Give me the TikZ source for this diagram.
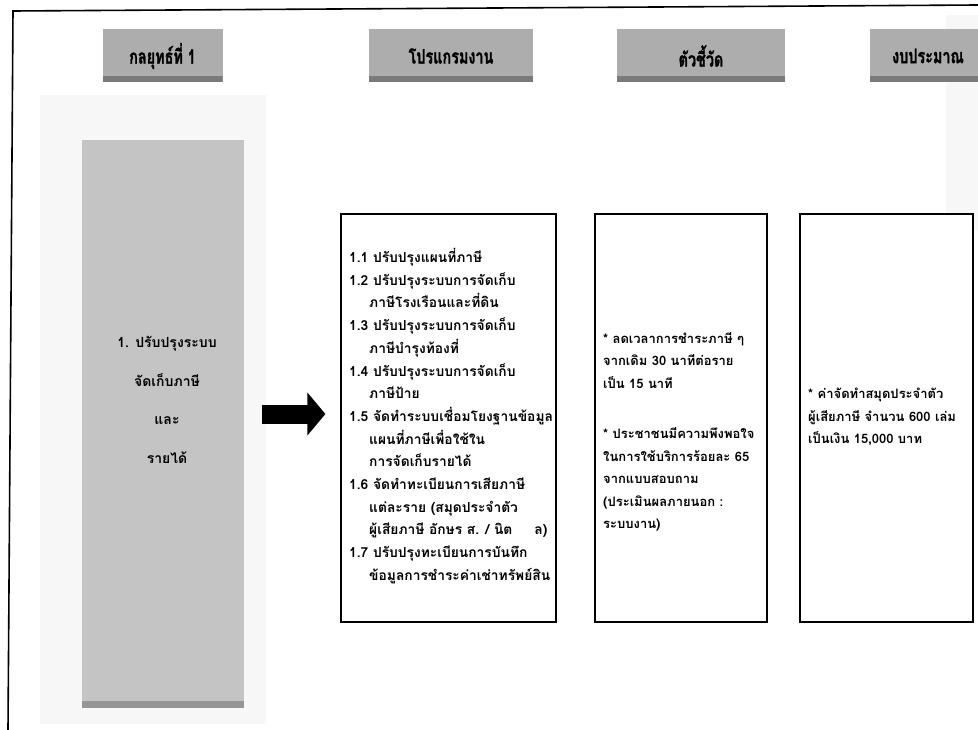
\documentclass[tikz,border=0pt]{standalone}
\usepackage{fontspec}
\newfontfamily\thai[Script=Thai]{Loma}
\newfontfamily\thaicond[Script=Thai,FakeStretch=0.72,FakeBold=1.2]{Loma}
\usetikzlibrary{arrows.meta}
\definecolor{hdrgray}{HTML}{ADADAD}
\definecolor{hdrshadow}{HTML}{7A7A7A}
\definecolor{stratgray}{HTML}{C4C4C4}
\definecolor{scanhaze}{HTML}{F7F7F7}
\begin{document}
\begin{tikzpicture}[x=1pt,y=-1pt,
  hdr/.style={fill=hdrgray, inner sep=0pt, minimum height=53pt,
    font=\thaicond\bfseries\fontsize{20}{22}\selectfont,
    path picture={\fill[hdrshadow]
      ([yshift=6pt]path picture bounding box.south west) rectangle
      (path picture bounding box.south east);}},
  stratbox/.style={fill=stratgray, inner sep=0pt,
    path picture={\fill[hdrshadow!80]
      ([yshift=7pt]path picture bounding box.south west) rectangle
      (path picture bounding box.south east);}},
  listbox/.style={draw=black, line width=1.2pt, fill=white, inner sep=0pt,
    minimum height=408pt},
  bodytext/.style={anchor=west, align=left, inner sep=0pt,
    font=\thai\bfseries\fontsize{13}{22.5}\selectfont},
  progfont/.style={font=\thai\bfseries\fontsize{13.8}{22.7}\selectfont},
  bigarrow/.style={line width=19pt, -{Triangle[length=18pt,width=42pt]}}
]
\useasboundingbox (0,0) rectangle (978,730);
\fill[white] (0,0) rectangle (978,730);

% faint scan haze behind the strategy column and the top-right corner
\fill[scanhaze] (40,95) rectangle (266,724);
\fill[scanhaze] (946,15) rectangle (978,230);

% page frame (left and top edges)
\draw[line width=1.6pt] (8,730) -- (13,11) -- (978,5);

% column headers
\node[hdr, minimum width=120pt] (h1) at (162.5,56) {กลยุทธ์ที่ 1};
\node[hdr, minimum width=164pt] (h2) at (451,56) {โปรแกรมงาน};
\node[hdr, minimum width=168pt] (h3) at (701,56) {ตัวชี้วัด};
\node[hdr, minimum width=116pt] (h4) at (928,56) {งบประมาณ};

% strategy column
\node[stratbox, minimum width=162pt, minimum height=568pt] (strat) at (163,424) {};
\node[align=center, inner sep=0pt,
  font=\thai\bfseries\fontsize{14}{38.5}\selectfont] (strattext) at (167,400)
  {1. ปรับปรุงระบบ\\จัดเก็บภาษี\\และ\\รายได้};

% content boxes
\node[listbox, minimum width=215pt] (progbox) at (448.5,418) {};
\node[listbox, minimum width=172pt] (kpibox) at (681,418) {};
\node[listbox, minimum width=173pt] (budbox) at (886.5,418) {};

% arrow from the strategy to its programmes
\draw[bigarrow] ([xshift=18pt]strat.east |- 0,414) -- ([xshift=-15pt]progbox.west |- 0,414);

\node[bodytext, progfont] (progtext) at (349,416) {%
1.1 ปรับปรุงแผนที่ภาษี\\
1.2 ปรับปรุงระบบการจัดเก็บ\\
\hspace*{20pt}ภาษีโรงเรือนและที่ดิน\\
1.3 ปรับปรุงระบบการจัดเก็บ\\
\hspace*{20pt}ภาษีบำรุงท้องที่\\
1.4 ปรับปรุงระบบการจัดเก็บ\\
\hspace*{20pt}ภาษีป้าย\\
1.5 จัดทำระบบเชื่อมโยงฐานข้อมูล\\
\hspace*{20pt}แผนที่ภาษีเพื่อใช้ใน\\
\hspace*{20pt}การจัดเก็บรายได้\\
1.6 จัดทำทะเบียนการเสียภาษี\\
\hspace*{20pt}แต่ละราย (สมุดประจำตัว\\
\hspace*{20pt}ผู้เสียภาษี อักษร ส. / นิต\hspace*{22pt}ล)\\
1.7 ปรับปรุงทะเบียนการบันทึก\\
\hspace*{20pt}ข้อมูลการชำระค่าเช่าทรัพย์สิน};

\node[bodytext] (kpitext) at (603,432) {%
* ลดเวลาการชำระภาษี ๆ\\
จากเดิม 30 นาทีต่อราย\\
เป็น 15 นาที\\[28pt]
* ประชาชนมีความพึงพอใจ\\
ในการใช้บริการร้อยละ 65\\
จากแบบสอบถาม\\
(ประเมินผลภายนอก :\\
ระบบงาน)};

\node[bodytext] (budtext) at (808,417) {%
* ค่าจัดทำสมุดประจำตัว\\
ผู้เสียภาษี จำนวน 600 เล่ม\\
เป็นเงิน 15,000 บาท};
\end{tikzpicture}
\end{document}
